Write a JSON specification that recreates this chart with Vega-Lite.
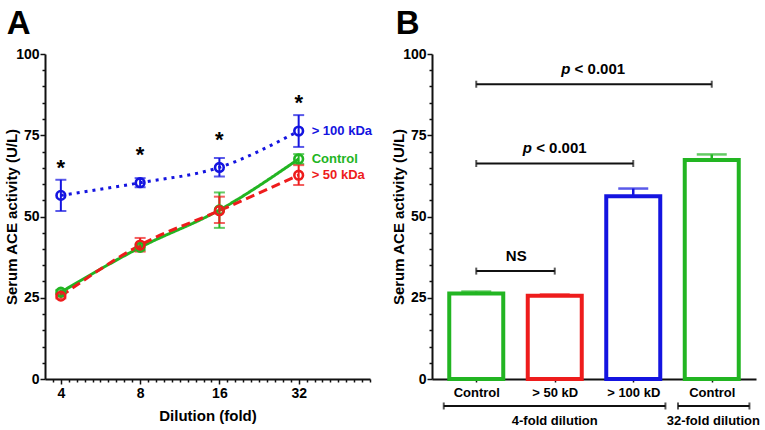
{
  "$schema": "https://vega.github.io/schema/vega-lite/v6.json",
  "background": "white",
  "padding": {"left": 4, "top": 8, "right": 5, "bottom": 5},
  "bounds": "flush",
  "spacing": 62,
  "datasets": {
    "curves": [
      {"series": "> 100 kDa", "dil": 4, "mean": 56.5, "lo": 51.7, "hi": 61.3},
      {"series": "> 100 kDa", "dil": 8, "mean": 60.4, "lo": 59.0, "hi": 61.8},
      {"series": "> 100 kDa", "dil": 16, "mean": 65.1, "lo": 62.3, "hi": 68.0},
      {"series": "> 100 kDa", "dil": 32, "mean": 76.3, "lo": 71.4, "hi": 81.2},
      {"series": "Control", "dil": 4, "mean": 26.7, "lo": 26.0, "hi": 27.4},
      {"series": "Control", "dil": 8, "mean": 40.5, "lo": 39.6, "hi": 41.4},
      {"series": "Control", "dil": 16, "mean": 52.0, "lo": 46.5, "hi": 57.4},
      {"series": "Control", "dil": 32, "mean": 67.7, "lo": 66.2, "hi": 69.2},
      {"series": "> 50 kDa", "dil": 4, "mean": 25.5, "lo": 24.8, "hi": 26.2},
      {"series": "> 50 kDa", "dil": 8, "mean": 41.2, "lo": 39.2, "hi": 43.4},
      {"series": "> 50 kDa", "dil": 16, "mean": 51.8, "lo": 48.0, "hi": 56.1},
      {"series": "> 50 kDa", "dil": 32, "mean": 62.7, "lo": 59.7, "hi": 65.8}
    ],
    "stars": [
      {"dil": 4, "y": 66},
      {"dil": 8, "y": 70},
      {"dil": 16, "y": 74.5},
      {"dil": 32, "y": 85.8}
    ],
    "bars": [
      {"pos": 1, "series": "Control", "mean": 26.3, "hi": 26.9},
      {"pos": 2, "series": "> 50 kDa", "mean": 25.6, "hi": 26.0},
      {"pos": 3, "series": "> 100 kDa", "mean": 56.2, "hi": 58.6},
      {"pos": 4, "series": "Control", "mean": 67.4, "hi": 69.1}
    ],
    "brackets": [
      {"x1": 1, "x2": 4, "y": 90.7, "grp": "top"},
      {"x1": 1, "x2": 3, "y": 66.3, "grp": "top"},
      {"x1": 1, "x2": 2, "y": 33.2, "grp": "top"},
      {"x1": 0.586, "x2": 3.41, "y": -8.3, "grp": "bottom"},
      {"x1": 3.57, "x2": 4.48, "y": -8.3, "grp": "bottom"}
    ],
    "notes": [
      {"x": 2.49, "y": 95.4, "text": "< 0.001", "kind": "p"},
      {"x": 2.0, "y": 71.0, "text": "< 0.001", "kind": "p"},
      {"x": 1.51, "y": 38.0, "text": "NS", "kind": "ns"},
      {"x": 2.0, "y": -13.0, "text": "4-fold dilution", "kind": "group"},
      {"x": 4.02, "y": -13.0, "text": "32-fold dilution", "kind": "group"}
    ]
  },
  "hconcat": [
    {
      "width": 325,
      "height": 325,
      "title": {"text": "A", "anchor": "start", "frame": "bounds", "fontSize": 33, "fontWeight": "bold", "font": "Liberation Sans", "baseline": "alphabetic", "offset": -20, "dx": 2},
      "data": {"name": "curves"},
      "encoding": {
        "x": {
          "field": "dil", "type": "quantitative",
          "scale": {"type": "log", "base": 2, "domain": [3.482, 59.71], "nice": false, "zero": false},
          "axis": {
            "title": "Dilution (fold)",
            "values": [3.732, 4, 4.287, 4.595, 4.925, 5.278, 5.657, 6.063, 6.498, 6.964, 7.464, 8, 8.574, 9.19, 9.849, 10.556, 11.314, 12.126, 12.996, 13.929, 14.929, 16, 17.148, 18.379, 19.698, 21.112, 22.627, 24.251, 25.992, 27.858, 29.857, 32, 34.297, 36.758, 39.397, 42.224, 45.255, 48.503, 51.984, 55.715, 59.71],
            "labelExpr": "indexof([4,8,16,32], datum.value) >= 0 ? datum.value + '' : ''",
            "labelOverlap": false,
            "labelFlush": false,
            "labelPadding": 2,
            "titlePadding": 8,
            "tickSize": {"condition": {"test": "indexof([4,8,16,32], datum.value) >= 0", "value": 5}, "value": 3}
          }
        },
        "y": {
          "type": "quantitative",
          "scale": {"domain": [0, 100], "nice": false},
          "axis": {
            "title": "Serum ACE activity (U/L)",
            "values": [0, 5, 10, 15, 20, 25, 30, 35, 40, 45, 50, 55, 60, 65, 70, 75, 80, 85, 90, 95, 100],
            "labelExpr": "datum.value % 25 === 0 ? datum.label : ''",
            "labelOverlap": false,
            "labelPadding": 1,
            "titlePadding": -4,
            "tickSize": {"condition": {"test": "datum.value % 25 === 0", "value": 5}, "value": 3}
          }
        },
        "color": {
          "field": "series", "type": "nominal",
          "scale": {"domain": ["> 100 kDa", "Control", "> 50 kDa"], "range": ["#1414e0", "#22b522", "#ee1c1c"]},
          "legend": null
        }
      },
      "layer": [
        {
          "mark": {"type": "line", "strokeWidth": 3, "interpolate": "monotone", "strokeCap": "butt"},
          "encoding": {
            "y": {"field": "mean"},
            "strokeDash": {
              "field": "series", "type": "nominal",
              "scale": {"domain": ["> 100 kDa", "Control", "> 50 kDa"], "range": [[3, 5], [1, 0], [9, 5]]},
              "legend": null
            }
          }
        },
        {
          "mark": {"type": "rule", "strokeWidth": 2},
          "encoding": {"y": {"field": "lo"}, "y2": {"field": "hi"}}
        },
        {
          "transform": [{"fold": ["lo", "hi"], "as": ["end", "val"]}],
          "mark": {"type": "tick", "orient": "horizontal", "size": 11, "thickness": 2},
          "encoding": {"y": {"field": "val"}}
        },
        {
          "mark": {"type": "point", "shape": "circle", "filled": false, "size": 75, "strokeWidth": 2.6, "opacity": 1},
          "encoding": {"y": {"field": "mean"}}
        },
        {
          "transform": [{"filter": "datum.dil == 32"}],
          "mark": {"type": "text", "align": "left", "baseline": "middle", "dx": 13, "fontSize": 13, "fontWeight": "bold", "font": "Liberation Sans"},
          "encoding": {"y": {"field": "mean"}, "text": {"field": "series"}}
        },
        {
          "data": {"name": "stars"},
          "mark": {"type": "text", "text": "*", "align": "center", "baseline": "middle", "dy": 3, "fontSize": 22, "fontWeight": "bold", "font": "Liberation Sans", "color": "#000"},
          "encoding": {"x": {"field": "dil", "type": "quantitative"}, "y": {"field": "y", "type": "quantitative"}, "color": {"value": "#000"}}
        }
      ]
    },
    {
      "width": 324,
      "height": 325,
      "title": {"text": "B", "anchor": "start", "frame": "bounds", "fontSize": 33, "fontWeight": "bold", "font": "Liberation Sans", "baseline": "alphabetic", "offset": -20, "dx": 4},
      "encoding": {
        "x": {
          "type": "quantitative",
          "scale": {"domain": [0.5, 4.5], "nice": false, "zero": false},
          "axis": {
            "title": null,
            "values": [1, 2, 3, 4],
            "labelExpr": "['Control', '> 50 kD', '> 100 kD', 'Control'][datum.value - 1]",
            "labelFontSize": 13,
            "labelPadding": 4,
            "labelOverlap": false,
            "labelFlush": false,
            "tickSize": 3
          }
        },
        "y": {
          "type": "quantitative",
          "scale": {"domain": [0, 100], "nice": false},
          "axis": {
            "title": "Serum ACE activity (U/L)",
            "values": [0, 5, 10, 15, 20, 25, 30, 35, 40, 45, 50, 55, 60, 65, 70, 75, 80, 85, 90, 95, 100],
            "labelExpr": "datum.value % 25 === 0 ? datum.label : ''",
            "labelOverlap": false,
            "labelPadding": 1,
            "titlePadding": -4,
            "tickSize": {"condition": {"test": "datum.value % 25 === 0", "value": 5}, "value": 3}
          }
        }
      },
      "layer": [
        {
          "data": {"name": "bars"},
          "mark": {"type": "bar", "orient": "vertical", "size": 54, "fill": "white", "strokeWidth": 4},
          "encoding": {
            "x": {"field": "pos"},
            "y": {"field": "mean", "stack": null},
            "stroke": {
              "field": "series", "type": "nominal",
              "scale": {"domain": ["> 100 kDa", "Control", "> 50 kDa"], "range": ["#1414e0", "#22b522", "#ee1c1c"]},
              "legend": null
            }
          }
        },
        {
          "data": {"name": "bars"},
          "mark": {"type": "rule", "strokeWidth": 2.5},
          "encoding": {
            "x": {"field": "pos"},
            "y": {"field": "mean"},
            "y2": {"field": "hi"},
            "color": {"field": "series", "type": "nominal", "scale": {"domain": ["> 100 kDa", "Control", "> 50 kDa"], "range": ["#1414e0", "#22b522", "#ee1c1c"]}, "legend": null}
          }
        },
        {
          "data": {"name": "bars"},
          "mark": {"type": "tick", "orient": "horizontal", "size": 30, "thickness": 2.5},
          "encoding": {
            "x": {"field": "pos"},
            "y": {"field": "hi"},
            "color": {"field": "series", "type": "nominal", "scale": {"domain": ["> 100 kDa", "Control", "> 50 kDa"], "range": ["#1414e0", "#22b522", "#ee1c1c"]}, "legend": null}
          }
        },
        {
          "data": {"name": "brackets"},
          "mark": {"type": "rule", "strokeWidth": 2, "color": "#111"},
          "encoding": {"x": {"field": "x1"}, "x2": {"field": "x2"}, "y": {"field": "y"}}
        },
        {
          "data": {"name": "brackets"},
          "transform": [{"fold": ["x1", "x2"], "as": ["end", "xe"]}],
          "mark": {"type": "tick", "orient": "vertical", "size": 7, "thickness": 2, "color": "#111"},
          "encoding": {"x": {"field": "xe"}, "y": {"field": "y"}}
        },
        {
          "data": {"name": "notes"},
          "transform": [{"filter": "datum.kind == 'p'"}],
          "mark": {"type": "text", "text": "p", "align": "left", "baseline": "middle", "dx": -32, "fontSize": 15, "fontWeight": "bold", "fontStyle": "italic", "font": "Liberation Sans", "color": "#000"},
          "encoding": {"x": {"field": "x"}, "y": {"field": "y"}}
        },
        {
          "data": {"name": "notes"},
          "transform": [{"filter": "datum.kind == 'p'"}],
          "mark": {"type": "text", "align": "left", "baseline": "middle", "dx": -18.6, "fontSize": 15, "fontWeight": "bold", "font": "Liberation Sans", "color": "#000"},
          "encoding": {"x": {"field": "x"}, "y": {"field": "y"}, "text": {"field": "text"}}
        },
        {
          "data": {"name": "notes"},
          "transform": [{"filter": "datum.kind == 'ns'"}],
          "mark": {"type": "text", "align": "center", "baseline": "middle", "fontSize": 15, "fontWeight": "bold", "font": "Liberation Sans", "color": "#000"},
          "encoding": {"x": {"field": "x"}, "y": {"field": "y"}, "text": {"field": "text"}}
        },
        {
          "data": {"name": "notes"},
          "transform": [{"filter": "datum.kind == 'group'"}],
          "mark": {"type": "text", "align": "center", "baseline": "middle", "fontSize": 13, "fontWeight": "bold", "font": "Liberation Sans", "color": "#000"},
          "encoding": {"x": {"field": "x"}, "y": {"field": "y"}, "text": {"field": "text"}}
        }
      ]
    }
  ],
  "config": {
    "font": "Liberation Sans",
    "view": {"stroke": null},
    "axis": {
      "grid": false,
      "domainColor": "#111",
      "domainWidth": 2,
      "tickColor": "#111",
      "tickWidth": 1.5,
      "labelFont": "Liberation Sans",
      "labelFontWeight": "bold",
      "labelFontSize": 14,
      "labelColor": "#000",
      "titleFont": "Liberation Sans",
      "titleFontWeight": "bold",
      "titleFontSize": 15,
      "titleColor": "#000"
    }
  }
}
